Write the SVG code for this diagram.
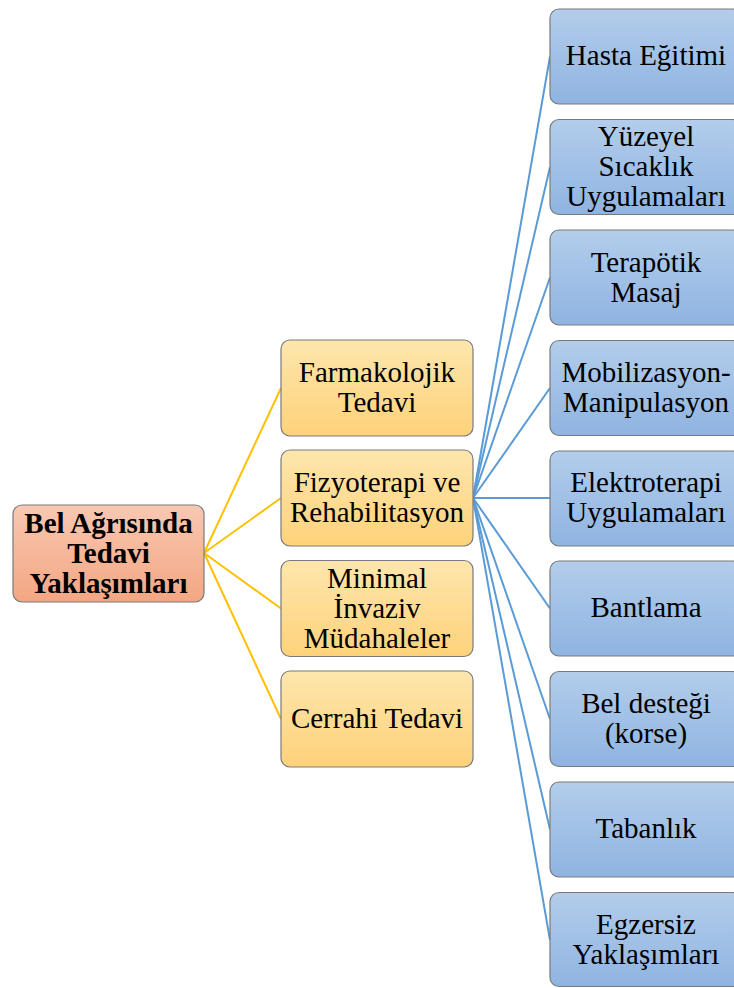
<svg xmlns="http://www.w3.org/2000/svg" width="734" height="988" viewBox="0 0 734 988">
<defs>
<linearGradient id="gBlue" x1="0" y1="0" x2="0" y2="1"><stop offset="0" stop-color="#b3cdeb"/><stop offset="1" stop-color="#8fb4e1"/></linearGradient>
<linearGradient id="gOrange" x1="0" y1="0" x2="0" y2="1"><stop offset="0" stop-color="#fde6ad"/><stop offset="1" stop-color="#fed27a"/></linearGradient>
<linearGradient id="gRoot" x1="0" y1="0" x2="0" y2="1"><stop offset="0" stop-color="#f8c8b2"/><stop offset="1" stop-color="#f4a683"/></linearGradient>
</defs>
<style>
.box{stroke:#7a7a7a;stroke-width:1.2}
.b{fill:url(#gBlue)}
.o{fill:url(#gOrange)}
.r{fill:url(#gRoot)}
text{font-family:"Liberation Serif","Times New Roman",serif;font-size:29px;fill:#000;text-anchor:middle}
.bold{font-weight:bold;font-size:29px}
.y{stroke:#ffc000;stroke-width:2;fill:none}
.bl{stroke:#5b9bd5;stroke-width:2;fill:none}
</style>
<g id="connectors">
<line class="y" x1="204" y1="553" x2="281" y2="388"/>
<line class="y" x1="204" y1="553" x2="281" y2="498"/>
<line class="y" x1="204" y1="553" x2="281" y2="608.5"/>
<line class="y" x1="204" y1="553" x2="281" y2="719"/>
<line class="bl" x1="473" y1="498" x2="550" y2="56.5"/>
<line class="bl" x1="473" y1="498" x2="550" y2="167"/>
<line class="bl" x1="473" y1="498" x2="550" y2="277.5"/>
<line class="bl" x1="473" y1="498" x2="550" y2="388"/>
<line class="bl" x1="473" y1="498" x2="550" y2="498"/>
<line class="bl" x1="473" y1="498" x2="550" y2="608.5"/>
<line class="bl" x1="473" y1="498" x2="550" y2="719"/>
<line class="bl" x1="473" y1="498" x2="550" y2="829.5"/>
<line class="bl" x1="473" y1="498" x2="550" y2="940"/>
</g>
<g id="root">
<rect class="box r" x="13" y="505" width="191" height="97" rx="9"/>
<text class="bold" x="108.5" y="533">Bel Ağrısında</text>
<text class="bold" x="108.5" y="563">Tedavi</text>
<text class="bold" x="108.5" y="593">Yaklaşımları</text>
</g>
<g id="farmakolojik">
<rect class="box o" x="281" y="340" width="192" height="96" rx="9"/>
<text x="377" y="382">Farmakolojik</text>
<text x="377" y="412">Tedavi</text>
</g>
<g id="fizyoterapi">
<rect class="box o" x="281" y="450" width="192" height="96" rx="9"/>
<text x="377" y="492">Fizyoterapi ve</text>
<text x="377" y="522">Rehabilitasyon</text>
</g>
<g id="minimal">
<rect class="box o" x="281" y="560.5" width="192" height="96" rx="9"/>
<text x="377" y="587.5">Minimal</text>
<text x="377" y="617.5">İnvaziv</text>
<text x="377" y="647.5">Müdahaleler</text>
</g>
<g id="cerrahi">
<rect class="box o" x="281" y="671" width="192" height="96" rx="9"/>
<text x="377" y="728">Cerrahi Tedavi</text>
</g>
<g id="hasta">
<rect class="box b" x="550" y="9" width="192" height="95" rx="9"/>
<text x="646" y="65">Hasta Eğitimi</text>
</g>
<g id="yuzeyel">
<rect class="box b" x="550" y="119.5" width="192" height="95" rx="9"/>
<text x="646" y="146">Yüzeyel</text>
<text x="646" y="176">Sıcaklık</text>
<text x="646" y="206">Uygulamaları</text>
</g>
<g id="masaj">
<rect class="box b" x="550" y="230" width="192" height="95" rx="9"/>
<text x="646" y="271.5">Terapötik</text>
<text x="646" y="301.5">Masaj</text>
</g>
<g id="mobilizasyon">
<rect class="box b" x="550" y="340.5" width="192" height="95" rx="9"/>
<text x="646" y="382">Mobilizasyon-</text>
<text x="646" y="412">Manipulasyon</text>
</g>
<g id="elektroterapi">
<rect class="box b" x="550" y="451" width="192" height="95" rx="9"/>
<text x="646" y="492">Elektroterapi</text>
<text x="646" y="522">Uygulamaları</text>
</g>
<g id="bantlama">
<rect class="box b" x="550" y="561" width="192" height="95" rx="9"/>
<text x="646" y="617">Bantlama</text>
</g>
<g id="korse">
<rect class="box b" x="550" y="671.5" width="192" height="95" rx="9"/>
<text x="646" y="713">Bel desteği</text>
<text x="646" y="743">(korse)</text>
</g>
<g id="tabanlik">
<rect class="box b" x="550" y="782" width="192" height="95" rx="9"/>
<text x="646" y="838">Tabanlık</text>
</g>
<g id="egzersiz">
<rect class="box b" x="550" y="892.5" width="192" height="94" rx="9"/>
<text x="646" y="934">Egzersiz</text>
<text x="646" y="964">Yaklaşımları</text>
</g>
</svg>
